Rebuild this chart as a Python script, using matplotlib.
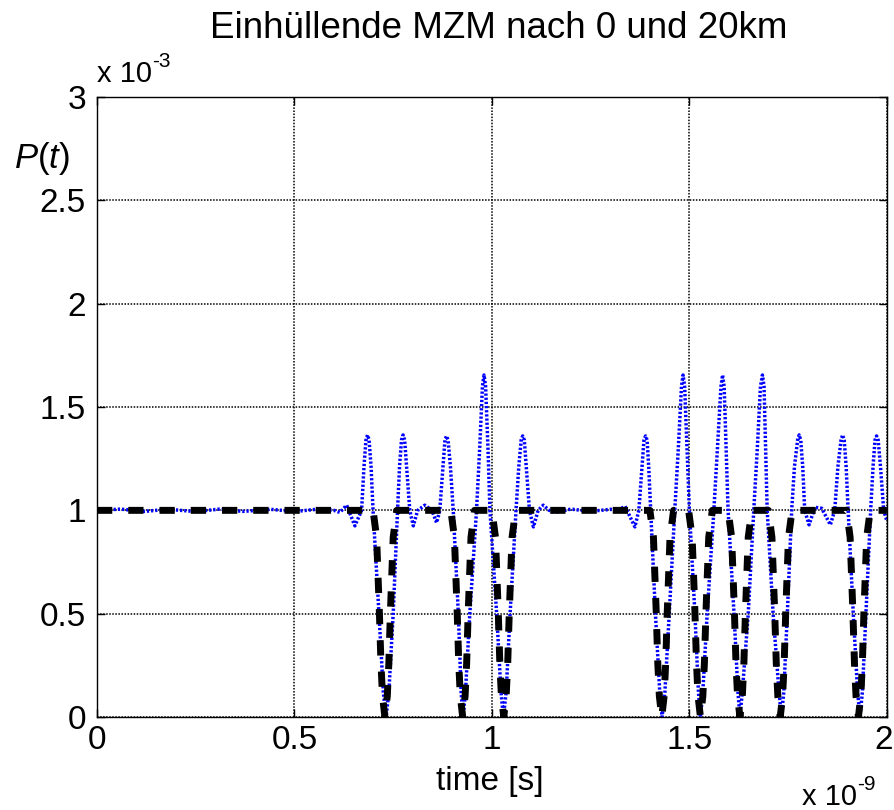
import matplotlib
matplotlib.use('Agg')
import matplotlib.pyplot as plt
import matplotlib.transforms as mtransforms
import numpy as np

plt.rcParams['font.family'] = ['Liberation Sans', 'DejaVu Sans']
plt.rcParams['mathtext.fontset'] = 'custom'
plt.rcParams['mathtext.rm'] = 'Liberation Sans'
plt.rcParams['mathtext.it'] = 'Liberation Sans:italic'

# time in units of 1e-9 s, power in units of 1e-3
# 0 km: dips to zero at these bit positions
dip_centers = [0.729, 0.926, 1.030, 1.430, 1.528, 1.628, 1.730, 1.928]
dip_offset = [-0.030, -0.021, -0.014, -0.010, -0.006, 0.0, 0.006, 0.010, 0.014, 0.021, 0.030]
dip_power = [1.0, 0.87, 0.51, 0.26, 0.10, 0.0, 0.10, 0.26, 0.51, 0.87, 1.0]

# 20 km
t_20km = [0.00, 0.06, 0.12, 0.18, 0.25, 0.31, 0.37, 0.44, 0.50, 0.56, 0.60, 0.615, 0.632, 0.653,
          0.670, 0.676, 0.681, 0.685, 0.689, 0.694, 0.699, 0.714, 0.725, 0.732, 0.739, 0.750,
          0.761, 0.766, 0.771, 0.775, 0.779, 0.784, 0.792, 0.801, 0.812, 0.830, 0.848, 0.860,
          0.868, 0.876, 0.881, 0.885, 0.889, 0.895, 0.902, 0.915, 0.922, 0.927, 0.933, 0.944,
          0.961, 0.969, 0.976, 0.980, 0.984, 0.990, 0.995, 1.012, 1.023, 1.029, 1.036, 1.046,
          1.061, 1.068, 1.074, 1.078, 1.082, 1.087, 1.095, 1.105, 1.117, 1.130, 1.145, 1.16,
          1.20, 1.25, 1.30, 1.32, 1.337, 1.362,
          1.372, 1.380, 1.385, 1.389, 1.393, 1.397, 1.402, 1.414, 1.425, 1.431, 1.438, 1.449,
          1.463, 1.472, 1.480, 1.484, 1.488, 1.494, 1.500, 1.514, 1.523, 1.528, 1.534, 1.545,
          1.562, 1.571, 1.580, 1.584, 1.588, 1.593, 1.598, 1.613, 1.623, 1.628, 1.634, 1.649,
          1.663, 1.672, 1.680, 1.685, 1.689, 1.693, 1.697, 1.712, 1.727, 1.733, 1.739, 1.748,
          1.759, 1.766, 1.774, 1.778, 1.782, 1.787, 1.792, 1.803, 1.818, 1.835, 1.857,
          1.868, 1.876, 1.884, 1.888, 1.892, 1.897, 1.902, 1.915, 1.926, 1.932, 1.938, 1.947,
          1.959, 1.965, 1.970, 1.974, 1.978, 1.984, 1.992, 2.000]
p_20km = [1.00, 1.006, 0.995, 1.005, 0.994, 1.006, 0.995, 1.005, 0.994, 1.006, 1.00, 0.99, 1.025, 0.925,
          1.00, 1.21, 1.34, 1.365, 1.34, 1.21, 1.00, 0.50, 0.12, 0.00, 0.12, 0.50,
          1.00, 1.21, 1.34, 1.365, 1.34, 1.21, 1.00, 0.925, 1.00, 1.025, 1.00, 0.94,
          1.00, 1.21, 1.34, 1.36, 1.34, 1.21, 1.00, 0.50, 0.12, 0.00, 0.12, 0.50,
          1.00, 1.30, 1.60, 1.655, 1.60, 1.30, 1.00, 0.50, 0.12, 0.00, 0.12, 0.50,
          1.00, 1.21, 1.34, 1.36, 1.34, 1.21, 1.00, 0.92, 1.00, 1.025, 1.00, 0.99,
          1.006, 0.995, 1.005, 1.00, 1.02, 0.92,
          1.00, 1.21, 1.34, 1.36, 1.34, 1.21, 1.00, 0.50, 0.12, 0.00, 0.12, 0.50,
          1.00, 1.30, 1.60, 1.655, 1.60, 1.30, 1.00, 0.50, 0.12, 0.00, 0.12, 0.50,
          1.00, 1.30, 1.60, 1.655, 1.60, 1.30, 1.00, 0.50, 0.12, 0.00, 0.12, 0.50,
          1.00, 1.30, 1.60, 1.655, 1.60, 1.30, 1.00, 0.50, 0.12, 0.00, 0.12, 0.50,
          1.00, 1.21, 1.34, 1.365, 1.34, 1.21, 1.00, 0.93, 1.015, 1.01, 0.93,
          1.00, 1.21, 1.34, 1.365, 1.34, 1.21, 1.00, 0.50, 0.12, 0.00, 0.12, 0.50,
          1.00, 1.21, 1.34, 1.36, 1.34, 1.21, 1.00, 0.95]

x_ticks = [0, 0.5, 1, 1.5, 2]
x_ticklabels = ['0', '0.5', '1', '1.5', '2']
y_ticks = [0, 0.5, 1, 1.5, 2, 2.5, 3]
y_ticklabels = ['0', '0.5', '1', '1.5', '2', '2.5', '3']

# build the 0 km envelope from the dip shape
t_0km = [0.0]
p_0km = [1.0]
for c in dip_centers:
    for o, p in zip(dip_offset, dip_power):
        t_0km.append(c + o)
        p_0km.append(p)
t_0km.append(2.0)
p_0km.append(1.0)

fig = plt.figure(figsize=(8.94, 8.10), dpi=100)
ax = fig.add_axes([0.1085, 0.1148, 0.8835, 0.7654])

ax.plot(t_20km, p_20km, color='#0000ff', lw=2.5, linestyle=(0, (0.65, 0.55)),
        dash_capstyle='butt', zorder=2)
ax.plot(t_0km, p_0km, color='k', lw=5, linestyle=(0, (2.2, 2.3)),
        dash_capstyle='butt', zorder=3)

ax.set_xlim(0, 2)
ax.set_ylim(0, 3)
ax.set_xticks(x_ticks)
ax.set_xticklabels(x_ticklabels)
ax.set_yticks(y_ticks)
ax.set_yticklabels(y_ticklabels)
ax.tick_params(direction='in', length=6, width=1, top=True, right=True, labelsize=24)
ax.tick_params(axis='x', pad=6)
ax.tick_params(axis='y', pad=8)
ax.grid(True, color='k', linestyle=(0, (1, 1)), lw=1.1)
for s in ax.spines.values():
    s.set_linewidth(1.0)

# keep the last x label inside the figure edge
last = ax.get_xticklabels()[-1]
last.set_transform(last.get_transform() +
                   mtransforms.ScaledTranslation(-0.03, 0, fig.dpi_scale_trans))

fig.text(0.558, 1 - 38 / 810, 'Einhüllende MZM nach 0 und 20km', ha='center', va='baseline', fontsize=26.5)

# exponent labels, MATLAB style "x 10^-n" with a plain hyphen
e3 = fig.text(97 / 894, 1 - 82 / 810, 'x 10', ha='left', va='baseline', fontsize=21)
ax.annotate('-3', xy=(1.0, 0.95), xycoords=e3, ha='left', va='center', fontsize=15,
            annotation_clip=False)
e9 = fig.text(802 / 894, 1 - 805 / 810, 'x 10', ha='left', va='baseline', fontsize=21)
ax.annotate('-9', xy=(1.0, 0.95), xycoords=e9, ha='left', va='center', fontsize=15,
            annotation_clip=False)

fig.text(0.548, 1 - 790 / 810, 'time [s]', ha='center', va='baseline', fontsize=24)
fig.text(0.016, 1 - 168 / 810, r'$\mathit{P}$($\mathit{t}$)', ha='left', va='baseline', fontsize=25)

fig.savefig('out.png', dpi=100)
